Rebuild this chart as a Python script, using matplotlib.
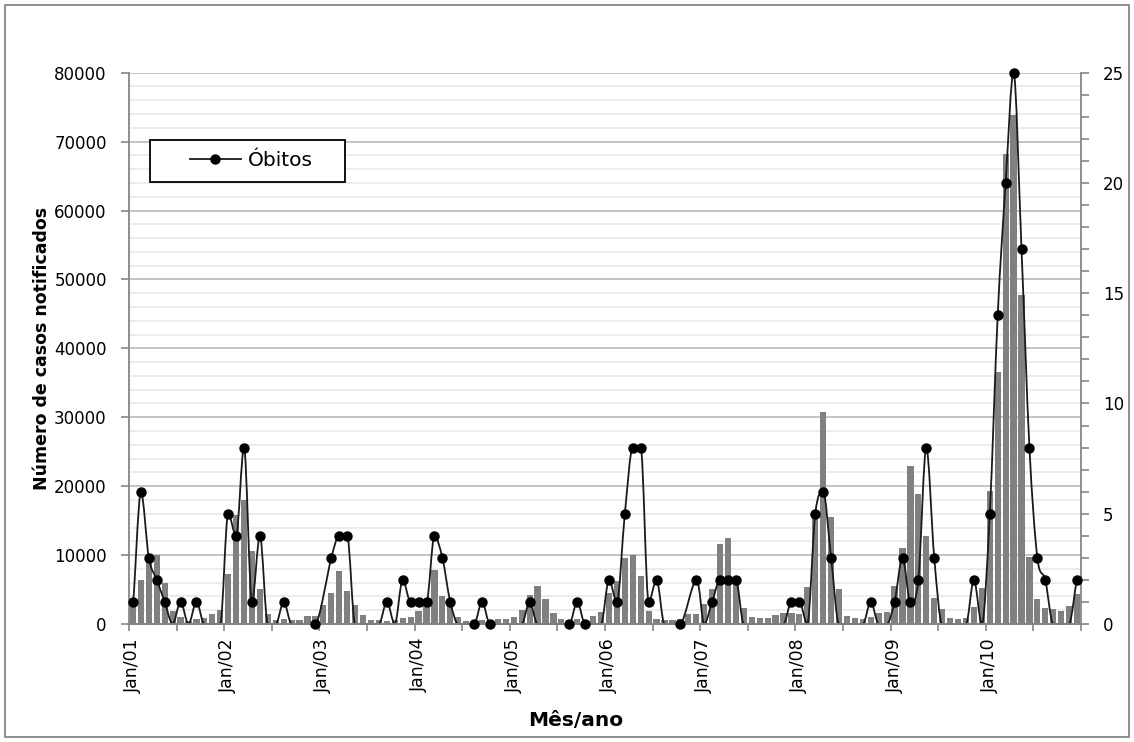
import numpy as np
import matplotlib
matplotlib.use("Agg")
import matplotlib.pyplot as plt
from matplotlib.path import Path
from matplotlib.patches import PathPatch, Rectangle
from matplotlib.lines import Line2D

# ---------------- data ----------------
anos = ["01", "02", "03", "04", "05", "06", "07", "08", "09", "10"]
rotulos_x = ["Jan/" + a for a in anos]

casos = [
    3000, 6350, 9500, 10050, 5960, 1850, 970, 400, 700, 800, 1400, 2050,
    7250, 15800, 18000, 10600, 5150, 1400, 600, 700, 600, 600, 1150, 1100,
    2740, 4500, 7700, 4750, 2740, 1250, 580, 580, 480, 580, 820, 1000,
    1880, 3000, 7900, 4100, 3450, 960, 480, 480, 530, 500, 670, 670,
    1060, 2020, 4280, 5530, 3700, 1630, 770, 580, 670, 580, 1150, 1680,
    4570, 6250, 9620, 10050, 6930, 1920, 720, 580, 580, 680, 1450, 1450,
    2950, 5150, 11580, 12500, 6000, 2250, 1060, 800, 850, 1280, 1640, 1550,
    1500, 5300, 16000, 30770, 15460, 5020, 1160, 920, 770, 1060, 1600, 1790,
    5550, 11100, 23000, 18930, 12750, 3720, 2130, 920, 680, 920, 2460, 5170,
    19320, 36600, 68170, 73870, 47700, 9760, 3570, 2270, 2170, 1880, 2660, 4350,
]

# None = célula vazia (desenhada como zero, sem marcador)
# "n/d" = sem dado (linha liga os vizinhos)
obitos = [
    1, 6, 3, 2, 1, None, 1, None, 1, None, None, None,
    5, 4, 8, 1, 4, None, None, 1, None, None, None, 0,
    "n/d", 3, 4, 4, None, None, None, None, 1, None, 2, 1,
    1, 1, 4, 3, 1, None, None, 0, 1, 0, None, None,
    None, None, 1, None, None, None, None, 0, 1, 0, None, None,
    2, 1, 5, 8, 8, 1, 2, None, None, 0, "n/d", 2,
    None, 1, 2, 2, 2, None, None, None, None, None, None, 1,
    1, None, 5, 6, 3, None, None, None, None, 1, None, None,
    1, 3, 1, 2, 8, 3, None, None, None, None, 2, None,
    5, 14, 20, 25, 17, 8, 3, 2, None, None, None, 2,
]

# ---------------- figure ----------------
W, H = 1134, 742
fig = plt.figure(figsize=(W / 100, H / 100), dpi=100)
plt.rcParams["font.family"] = ["DejaVu Sans"]

L, R, T, B = 129, 1081, 72.7, 624
ax = fig.add_axes([L / W, 1 - B / H, (R - L) / W, (B - T) / H])

x = np.arange(len(casos))
ax.bar(x, casos, width=0.78, color="#808080", zorder=2)

ax.set_xlim(-0.5, len(casos) - 0.5)
ax.set_ylim(0, 80000)
ax.set_yticks(np.arange(0, 80001, 10000))
ax.set_yticks(np.arange(0, 80001, 2000), minor=True)
ax.set_yticklabels([str(v) for v in range(0, 80001, 10000)])
ax.grid(which="minor", axis="y", color="#ebebeb", lw=1.3, zorder=0)
ax.grid(which="major", axis="y", color="#bfbfbf", lw=1.3, zorder=0)
ax.set_axisbelow(True)

ax.set_xticks(np.arange(0, len(casos), 12))
ax.set_xticklabels(rotulos_x, rotation=90, fontsize=12.5)
ax.set_xticks(np.arange(-0.5, len(casos), 6), minor=True)
ax.tick_params(axis="x", which="major", length=0, pad=10)
ax.tick_params(axis="x", which="minor", length=5, color="#868686", width=1.2, direction="out")
ax.tick_params(axis="y", which="major", length=6, color="#868686", width=1.2,
               direction="out", labelsize=12, pad=10)
ax.tick_params(axis="y", which="minor", length=0)

for s in ["top", "right"]:
    ax.spines[s].set_visible(False)
for s in ["left", "bottom"]:
    ax.spines[s].set_color("#868686")
    ax.spines[s].set_linewidth(1.3)

# ---------------- deaths on secondary axis ----------------
ax2 = ax.twinx()
ax2.set_ylim(0, 25)
ax2.set_yticks(np.arange(0, 26, 5))
ax2.set_yticks(np.arange(0, 26, 1), minor=True)
ax2.tick_params(axis="y", which="both", length=6, color="#868686", width=1.2,
                direction="out", labelsize=12, pad=10)
for s in ["top", "left"]:
    ax2.spines[s].set_visible(False)
ax2.spines["bottom"].set_color("#868686")
ax2.spines["bottom"].set_linewidth(1.3)
ax2.spines["bottom"].set_zorder(3.5)
ax2.spines["right"].set_color("#868686")
ax2.spines["right"].set_linewidth(1.3)

xs, ys, mx, my = [], [], [], []
for i, v in enumerate(obitos):
    if v == "n/d":
        continue
    if v is None:
        xs.append(i); ys.append(0.0)
    else:
        xs.append(i); ys.append(float(v))
        mx.append(i); my.append(float(v))

P = np.column_stack([np.array(xs, float), np.array(ys, float)])
n = len(P)
# smoothed line (Bezier, Catmull-Rom tangents, flattened at local extremes)
tang = np.zeros_like(P)
for k in range(n):
    p0 = P[k - 1] if k > 0 else P[k]
    p2 = P[k + 1] if k < n - 1 else P[k]
    t = (p2 - p0) / 6.0
    y0, y1, y2 = p0[1], P[k][1], p2[1]
    if (y1 >= y0 and y1 >= y2) or (y1 <= y0 and y1 <= y2):
        t[1] = 0.0
    tang[k] = t
verts = [tuple(P[0])]
codes = [Path.MOVETO]
for k in range(n - 1):
    verts += [tuple(P[k] + tang[k]), tuple(P[k + 1] - tang[k + 1]), tuple(P[k + 1])]
    codes += [Path.CURVE4] * 3
ax2.add_patch(PathPatch(Path(verts, codes), fill=False, ec="#1a1a1a", lw=1.3,
                        zorder=3, clip_on=False))
ax2.plot(mx, my, "o", color="black", ms=6.5, zorder=4, clip_on=False)

# ---------------- legend ----------------
bx0, by0, bx1, by1 = 150, 140, 345, 182
ax2.add_patch(Rectangle(((bx0 - L) / (R - L), (B - by1) / (B - T)),
                        (bx1 - bx0) / (R - L), (by1 - by0) / (B - T),
                        transform=ax2.transAxes, fc="white", ec="black", lw=1.3,
                        zorder=5))
h = Line2D([], [], color="#1a1a1a", lw=1.3, marker="o", ms=6.5, mfc="black", mec="black")
leg = ax2.legend([h], ["Óbitos"], loc="center", frameon=False, fontsize=14.5,
                 handlelength=2.5, handletextpad=0.35, numpoints=1,
                 bbox_to_anchor=(((bx0 + bx1) / 2 + 4 - L) / (R - L),
                                 (B - (by0 + by1) / 2) / (B - T)))
leg.set_zorder(6)

# ---------------- titles ----------------
fig.text(576 / W, 1 - 720 / H, "Mês/ano", ha="center", va="center",
         fontsize=14.5, fontweight="bold")
fig.text(42 / W, 1 - 348 / H, "Número de casos notificados", ha="center", va="center",
         rotation=90, fontsize=12.5, fontweight="bold")

fig.patches.append(Rectangle((5 / W, 5 / H), (W - 10) / W, (H - 10) / H,
                             transform=fig.transFigure, fill=False, ec="#868686", lw=1.3))

fig.savefig("out.png", dpi=100)
